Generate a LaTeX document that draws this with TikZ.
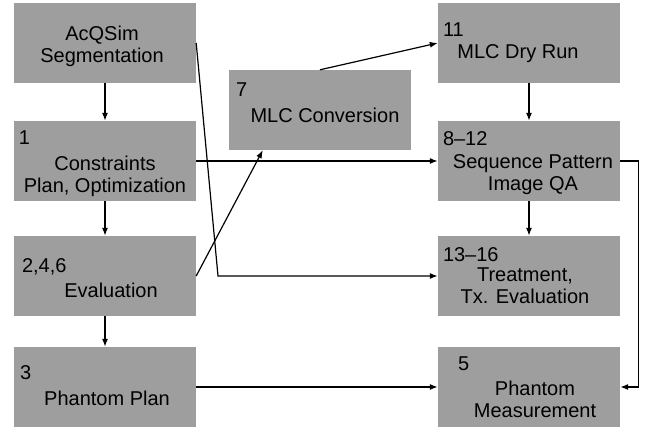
\documentclass[tikz,border=0pt]{standalone}
\usepackage{fontspec}
\setmainfont{Liberation Sans}
\usetikzlibrary{arrows.meta}
\definecolor{boxgray}{gray}{0.62}
\tikzset{
  stepbox/.style={fill=boxgray,minimum width=182pt,minimum height=80pt,inner sep=0pt},
  boxtext/.style={font=\fontsize{20}{22}\selectfont,align=center,inner sep=0pt},
  boxnum/.style={font=\fontsize{20}{22}\selectfont,anchor=north west,inner sep=0pt},
  flow/.style={line width=1.2pt,-{Latex[length=8pt,width=6pt]}}
}

\begin{document}
\begin{tikzpicture}[x=1pt,y=-1pt]
\useasboundingbox (0,0) rectangle (646,427);
  \foreach \nm/\x/\y/\txt/\dx/\dy in
    { seg/105/43/{AcQSim\\Segmentation}/-3/3,
      cons/105/161/{Constraints\\Plan, Optimization}/0/15,
      eval/105/276/{Evaluation}/6/14,
      pplan/105/387/{Phantom Plan}/2/11,
      conv/320/110/{MLC Conversion}/5/5,
      dry/529/43/{MLC Dry Run}/-11/11,
      seq/529/161/{Sequence Pattern\\Image QA}/4/14,
      treat/529/276/{Treatment,\\Tx. Evaluation}/-4/10,
      meas/529/387/{Phantom\\Measurement}/6/12
    }
    {
    \node[stepbox] (\nm) at (\x,\y) {};
    \node[boxtext] (\nm-text) at ([xshift=\dx pt,yshift=-\dy pt]\nm.center) {\txt};
    }
  \foreach \nm/\num/\dx/\dy in
    { cons/1/5/10,
      eval/{2,4,6}/8/23,
      pplan/3/6/19,
      conv/7/7/13,
      dry/11/5/20,
      seq/8–12/5/11,
      treat/13–16/5/12,
      meas/5/20/10
    }
    \node[boxnum] (\nm-num) at ([xshift=\dx pt,yshift=-\dy pt]\nm.north west) {\num};
  % connectors
  \coordinate (segbend) at (218,276);
  \draw[flow] (seg) -- (cons);
  \draw[flow] (cons) -- (eval);
  \draw[flow] (eval) -- (pplan);
  \draw[flow] (dry) -- (seq);
  \draw[flow] (seq) -- (treat);
  \draw[flow] (cons.east) -- (seq.west);
  \draw[flow] (pplan.east) -- (meas.west);
  \draw[flow] (seg.east) -- (segbend) -- (treat.west);
  \draw[flow] (eval.east) -- ([xshift=34pt]conv.south west);
  \draw[flow] (conv.north) -- (dry.west);
  \draw[flow] (seq.east) -- ++(18,0) |- (meas.east);
\end{tikzpicture}
\end{document}
